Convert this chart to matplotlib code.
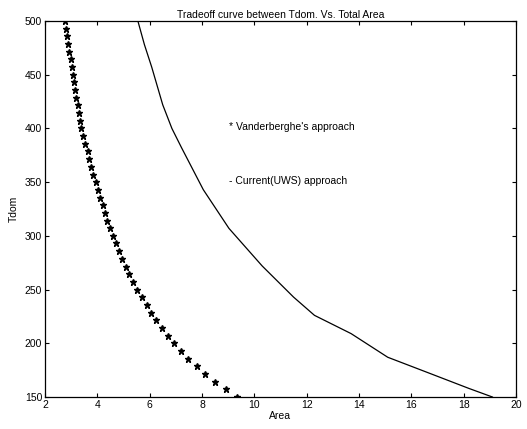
import matplotlib
matplotlib.use('Agg')
import matplotlib.pyplot as plt

plt.rcParams['font.family'] = ['Liberation Sans', 'DejaVu Sans']

# Vanderberghe's approach (stars)
area_v = [2.76, 2.80, 2.83, 2.87, 2.92, 2.98, 3.03, 3.06, 3.12, 3.16,
          3.20, 3.25, 3.29, 3.34, 3.39, 3.44, 3.54, 3.63, 3.69, 3.75,
          3.85, 3.95, 4.04, 4.12, 4.20, 4.29, 4.38, 4.49, 4.58, 4.70,
          4.83, 4.95, 5.09, 5.22, 5.37, 5.53, 5.70, 5.89, 6.05, 6.24,
          6.46, 6.70, 6.94, 7.20, 7.48, 7.80, 8.13, 8.50, 8.90, 9.32]
tdom_v = [500.0, 492.9, 485.7, 478.6, 471.4, 464.3, 457.1, 450.0, 442.9, 435.7,
          428.6, 421.4, 414.3, 407.1, 400.0, 392.9, 385.7, 378.6, 371.4, 364.3,
          357.1, 350.0, 342.9, 335.7, 328.6, 321.4, 314.3, 307.1, 300.0, 292.9,
          285.7, 278.6, 271.4, 264.3, 257.1, 250.0, 242.9, 235.7, 228.6, 221.4,
          214.3, 207.1, 200.0, 192.9, 185.7, 178.6, 171.4, 164.3, 157.1, 150.0]

# Current (UWS) approach (line)
area_c = [5.55, 5.80, 6.08, 6.50, 6.85, 7.22, 8.05, 9.03, 10.3, 11.5, 12.3, 13.7, 15.1, 16.6, 18.2, 19.1]
tdom_c = [500, 478, 457, 422, 400, 382, 343, 307, 272, 243, 226, 209, 187, 173, 158, 150]

fig = plt.figure(figsize=(5.27, 4.29), dpi=100)
ax = fig.add_axes([0.0854, 0.0746, 0.8936, 0.8764])

ax.plot(area_v, tdom_v, linestyle='none', marker='*', color='black', markersize=5)
ax.plot(area_c, tdom_c, color='black', linewidth=0.9)

ax.text(9.05, 401, "* Vanderberghe's approach", fontsize=7.5, va='center')
ax.text(9.05, 351, "- Current(UWS) approach", fontsize=7.5, va='center')

ax.set_xlim(2, 20)
ax.set_ylim(150, 500)
ax.set_xticks(range(2, 21, 2))
ax.set_yticks(range(150, 501, 50))
ax.tick_params(direction='in', top=True, right=True, labelsize=7.5, length=3, pad=2)
for s in ax.spines.values():
    s.set_linewidth(0.9)

ax.set_title('Tradeoff curve between Tdom. Vs. Total Area', fontsize=7.5, pad=2)
ax.set_xlabel('Area', fontsize=7.5, labelpad=1)
ax.set_ylabel('Tdom', fontsize=7.5, labelpad=4)

fig.savefig('out.png', dpi=100)
